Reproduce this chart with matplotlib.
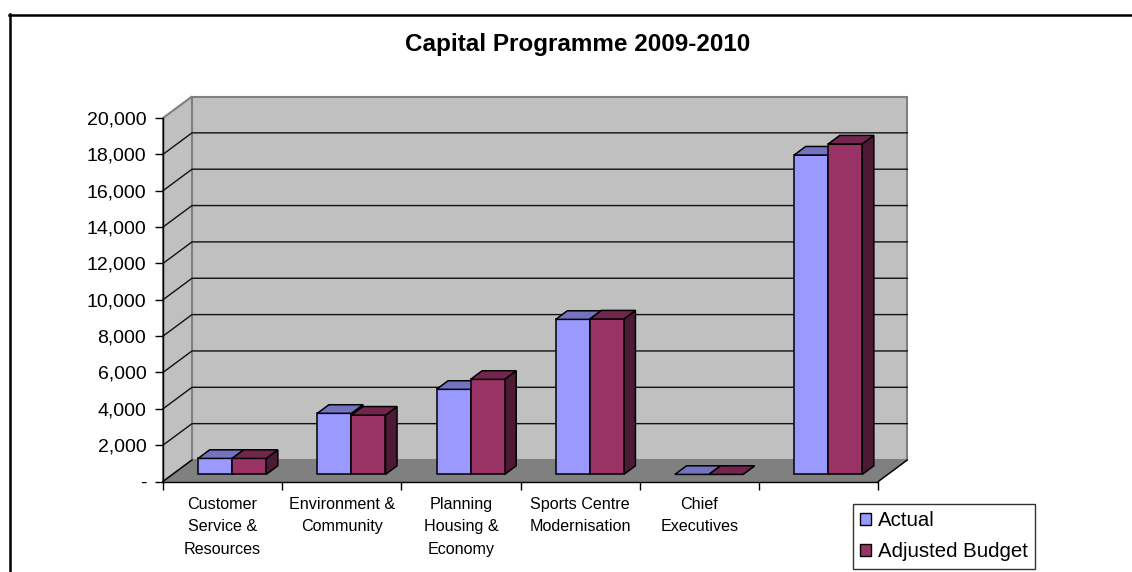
import matplotlib
matplotlib.use("Agg")
import matplotlib.pyplot as plt
from matplotlib.patches import Polygon, Patch
from matplotlib.ticker import FuncFormatter
from matplotlib.lines import Line2D

# data
categories = ["Customer\nService &\nResources", "Environment &\nCommunity",
              "Planning\nHousing &\nEconomy", "Sports Centre\nModernisation",
              "Chief\nExecutives", ""]
actual = [880, 3360, 4680, 8530, 0, 17570]
budget = [880, 3260, 5230, 8550, 0, 18180]
series = ["Actual", "Adjusted Budget"]
y_ticks = list(range(0, 20001, 2000))

plt.rcParams['font.family'] = ['Liberation Sans', 'DejaVu Sans']

W, H = 1132, 572
fig = plt.figure(figsize=(W / 100, H / 100), dpi=100)

# front plane of the 3d box
x0_px, x1_px, y0_px, y1_px = 163, 878.2, 481.5, 118
ax = fig.add_axes([x0_px / W, 1 - y0_px / H, (x1_px - x0_px) / W, (y0_px - y1_px) / H])
n = len(categories)
ymax = 20000
ax.set_xlim(0, n)
ax.set_ylim(0, ymax)
ax.patch.set_visible(False)

# depth of the box in data units
ddx = 29 / ((x1_px - x0_px) / n)
ddy = 21.5 / ((y0_px - y1_px) / ymax)

wall = '#C0C0C0'
edge = '#808080'
# back wall, left wall, floor
ax.add_patch(Polygon([(ddx, ddy), (n + ddx, ddy), (n + ddx, ymax + ddy), (ddx, ymax + ddy)],
                     fc=wall, ec=edge, lw=1.5, zorder=0.1, clip_on=False))
ax.add_patch(Polygon([(0, 0), (ddx, ddy), (ddx, ymax + ddy), (0, ymax)],
                     fc=wall, ec=edge, lw=1.5, zorder=0.2, clip_on=False))
ax.add_patch(Polygon([(0, 0), (n, 0), (n + ddx, ddy), (ddx, ddy)],
                     fc='#808080', ec=edge, lw=1, zorder=0.3, clip_on=False))

# gridlines on side + back wall
for v in y_ticks[1:-1]:
    ax.plot([0, ddx, n + ddx], [v, v + ddy, v + ddy], color='#111111', lw=1,
            zorder=0.5, clip_on=False)
ax.plot([0, ddx], [0, ddy], color='black', lw=1, zorder=0.5, clip_on=False)
ax.plot([n, n + ddx], [0, ddy], color='black', lw=1, zorder=0.5, clip_on=False)

# bars
bw = 1 / 3.5
f0, f1 = 0.33, 0.73


def bar3d(x, h, cf, ct, cs, z):
    fx = x + f0 * ddx
    fy = f0 * ddy
    bx = (f1 - f0) * ddx
    by = (f1 - f0) * ddy
    side = [(fx + bw, fy), (fx + bw + bx, fy + by), (fx + bw + bx, fy + h + by), (fx + bw, fy + h)]
    front = [(fx, fy), (fx + bw, fy), (fx + bw, fy + h), (fx, fy + h)]
    top = [(fx, fy + h), (fx + bw, fy + h), (fx + bw + bx, fy + h + by), (fx + bx, fy + h + by)]
    for pts, c in [(side, cs), (front, cf), (top, ct)]:
        ax.add_patch(Polygon(pts, fc=c, ec='black', lw=1.1, joinstyle='miter',
                             zorder=z, clip_on=False))


for i in range(n):
    bar3d(i + 0.5 - bw, actual[i], '#9999FF', '#7373BF', '#4D4D80', 3 + 2 * i)
    bar3d(i + 0.5, budget[i], '#993366', '#73264D', '#4D1A33', 4 + 2 * i)

# axes
for s in ['top', 'right']:
    ax.spines[s].set_visible(False)
for s in ['left', 'bottom']:
    ax.spines[s].set_color('black')
    ax.spines[s].set_linewidth(1)
    ax.spines[s].set_zorder(2)

ax.set_yticks(y_ticks)
ax.yaxis.set_major_formatter(FuncFormatter(lambda v, p: '-' if v == 0 else f'{v:,.0f}'))
ax.tick_params(axis='y', length=6, width=1, pad=6, labelsize=14, direction='out')

ax.set_xticks(range(n + 1))
ax.set_xticklabels([])
ax.set_xticks([i + 0.5 for i in range(n)], minor=True)
ax.set_xticklabels(categories, minor=True, fontsize=11.6, linespacing=1.62)
ax.tick_params(axis='x', which='major', length=6, width=1, direction='out')
ax.tick_params(axis='x', which='minor', length=0, pad=11)

fig.text(578 / W, 1 - 44 / H, "Capital Programme 2009-2010", ha='center', va='center',
         fontsize=17.5, fontweight='bold')

handles = [Patch(fc='#9999FF', ec='black', lw=1), Patch(fc='#993366', ec='black', lw=1)]
leg = fig.legend(handles=handles, labels=series, loc='upper left',
                 bbox_to_anchor=(853 / W, 1 - 504 / H), fontsize=14.7, frameon=True,
                 fancybox=False, edgecolor='black', handlelength=0.55, handleheight=0.55,
                 handletextpad=0.3, borderpad=0.35, labelspacing=0.6, borderaxespad=0)
leg.get_frame().set_linewidth(1)

# chart area border (cut off at right and bottom)
fig.add_artist(Line2D([9.5 / W, 9.5 / W], [0, 1 - 14 / H], color='black', lw=1.8))
fig.add_artist(Line2D([9 / W, 1], [1 - 14.5 / H, 1 - 14.5 / H], color='black', lw=1.8))

fig.savefig('out.png', dpi=100)
